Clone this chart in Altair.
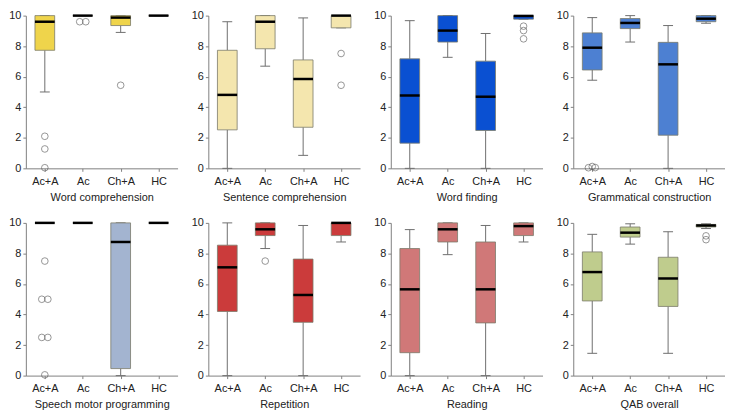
import altair as alt
import pandas as pd

groups = ["Ac+A", "Ac", "Ch+A", "HC"]
titles = ["Word comprehension", "Sentence comprehension", "Word finding",
          "Grammatical construction", "Speech motor programming", "Repetition",
          "Reading", "QAB overall"]
colors = ["#EFD44B", "#F4E6AE", "#0A50D2", "#4D80D2",
          "#A3B4D0", "#CB3B3B", "#D07878", "#BFCC8D"]

# per panel, per group (Ac+A, Ac, Ch+A, HC)
whisker_low = [
    [5.0, 10, 8.9, 10],
    [0.0, 6.69, 0.85, 9.2],
    [0.0, 7.27, 0.0, 9.77],
    [5.77, 8.27, 0.0, 9.5],
    [10, 10, 0.0, 10],
    [0.0, 8.32, 0.0, 8.75],
    [0.0, 7.92, 0.0, 8.75],
    [1.46, 8.61, 1.46, 9.63],
]
q1 = [
    [7.73, 10, 9.35, 10],
    [2.52, 7.83, 2.69, 9.2],
    [1.65, 8.27, 2.48, 9.77],
    [6.44, 9.15, 2.17, 9.6],
    [10, 10, 0.46, 10],
    [4.2, 9.17, 3.49, 9.17],
    [1.5, 8.75, 3.45, 9.17],
    [4.89, 9.07, 4.53, 9.73],
]
median = [
    [9.6, 10, 9.87, 10],
    [4.81, 9.6, 5.85, 10],
    [4.77, 9.02, 4.69, 9.98],
    [7.9, 9.52, 6.81, 9.8],
    [10, 10, 8.75, 10],
    [7.09, 9.58, 5.28, 10],
    [5.65, 9.58, 5.65, 9.79],
    [6.78, 9.36, 6.36, 9.83],
]
q3 = [
    [10, 10, 10, 10],
    [7.73, 10, 7.1, 10],
    [7.17, 10, 7.02, 10],
    [8.87, 9.81, 8.25, 10],
    [10, 10, 10, 10],
    [8.54, 10, 7.63, 10],
    [8.32, 10, 8.75, 10],
    [8.1, 9.73, 7.75, 9.9],
]
whisker_high = [
    [10, 10, 10, 10],
    [9.6, 10, 9.85, 10],
    [9.67, 10, 8.83, 10],
    [9.87, 10, 9.35, 10],
    [10, 10, 10, 10],
    [10, 10, 9.83, 10],
    [9.56, 10, 9.83, 10],
    [9.25, 9.94, 9.42, 9.94],
]
# outliers: (group, value, jitter)
outliers = [
    [("Ac+A", 2.1, 0), ("Ac+A", 1.27, 0), ("Ac+A", 0.04, 0),
     ("Ac", 9.6, -0.08), ("Ac", 9.6, 0.08), ("Ch+A", 5.44, 0)],
    [("HC", 7.52, 0), ("HC", 5.44, 0)],
    [("HC", 9.31, 0), ("HC", 9.02, 0), ("HC", 8.48, 0)],
    [("Ac+A", 0.04, -0.1), ("Ac+A", 0.12, 0), ("Ac+A", 0.05, 0.08)],
    [("Ac+A", 7.5, 0), ("Ac+A", 5.0, -0.08), ("Ac+A", 5.0, 0.08),
     ("Ac+A", 2.5, -0.08), ("Ac+A", 2.5, 0.08), ("Ac+A", 0.05, 0)],
    [("Ac", 7.5, 0)],
    [],
    [("HC", 9.15, 0), ("HC", 8.9, 0)],
]

label_expr = "[" + ",".join("'%s'" % g for g in groups) + "][datum.value - 1]"
xscale = alt.Scale(domain=[0.5, 4.5], nice=False, zero=False)
yscale = alt.Scale(domain=[0, 10], nice=False)


def xenc(field, title):
    return alt.X(field, type="quantitative", scale=xscale, title=title,
                 axis=alt.Axis(values=[1, 2, 3, 4], labelExpr=label_expr))


def yenc(field):
    return alt.Y(field, type="quantitative", scale=yscale, title=None,
                 axis=alt.Axis(values=[0, 2, 4, 6, 8, 10]))


def panel(i):
    box = pd.DataFrame({
        "group": groups,
        "idx": [1, 2, 3, 4],
        "lo": whisker_low[i],
        "q1": q1[i],
        "med": median[i],
        "q3": q3[i],
        "hi": whisker_high[i],
    })
    title = titles[i]
    base = alt.Chart(box).transform_calculate(
        bl="datum.idx - 0.26", br="datum.idx + 0.26",
        cl="datum.idx - 0.13", cr="datum.idx + 0.13")
    wlo = base.mark_rule(color="#6e6e6e", strokeWidth=1).encode(
        x=xenc("idx", title), y=yenc("lo"), y2="q1")
    whi = base.mark_rule(color="#6e6e6e", strokeWidth=1).encode(
        x=xenc("idx", title), y=yenc("q3"), y2="hi")
    clo = base.mark_rule(color="#6e6e6e", strokeWidth=1).encode(
        x=xenc("cl:Q", title), x2="cr:Q", y=yenc("lo"))
    chi = base.mark_rule(color="#6e6e6e", strokeWidth=1).encode(
        x=xenc("cl:Q", title), x2="cr:Q", y=yenc("hi"))
    bars = base.mark_bar(color=colors[i], stroke="#7a7a6a", strokeWidth=0.8).encode(
        x=xenc("bl:Q", title), x2="br:Q", y=yenc("q1"), y2="q3")
    med = base.mark_rule(color="black", strokeWidth=2.5).encode(
        x=xenc("bl:Q", title), x2="br:Q", y=yenc("med"))
    layers = [wlo, whi, clo, chi, bars, med]
    if outliers[i]:
        od = pd.DataFrame(outliers[i], columns=["group", "value", "jit"])
        od["idx"] = [groups.index(g) + 1 for g in od["group"]]
        pts = alt.Chart(od).transform_calculate(
            xo="datum.idx + datum.jit").mark_point(
            shape="circle", filled=False, color="#5a5a5a", size=45, strokeWidth=0.9
        ).encode(x=xenc("xo:Q", title), y=yenc("value"))
        layers.append(pts)
    return alt.layer(*layers).properties(width=153, height=154)


row1 = alt.hconcat(*[panel(i) for i in range(4)], spacing=13)
row2 = alt.hconcat(*[panel(i) for i in range(4, 8)], spacing=13)
chart = alt.vconcat(row1, row2, spacing=15).properties(
    padding={"left": 0, "top": 0, "right": 0, "bottom": 0}
).configure(font="Liberation Sans").configure_view(stroke=None).configure_axis(
    grid=False, domainColor="#808080", tickColor="#808080", tickSize=3,
    labelFontSize=11, labelColor="#222222", labelPadding=2,
    titleFontSize=11, titleFontWeight="normal", titleColor="#222222", titlePadding=4,
    labelFont="Liberation Sans", titleFont="Liberation Sans"
).configure_axisX(labelAngle=0, labelPadding=4, titlePadding=5)

chart.save("out.html", embed_options={"renderer": "svg", "actions": False})
